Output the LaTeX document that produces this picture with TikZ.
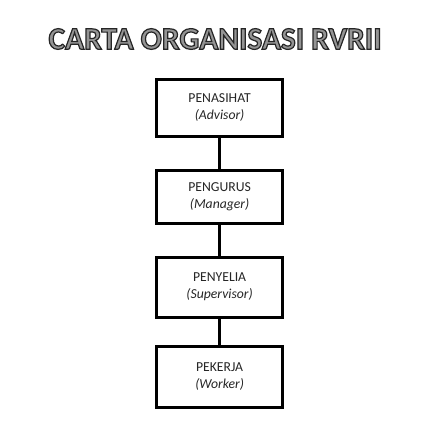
\documentclass[tikz,border=0pt]{standalone}
\usepackage{fontspec}
\setmainfont{Carlito}
\newcommand{\outlinedtext}[1]{\special{pdf:literal direct 2 Tr 1.2 w 0.15 0.15 0.15 RG}#1\special{pdf:literal direct 0 Tr 0 0 0 RG}}
\begin{document}
\begin{tikzpicture}[x=1pt,y=-1pt,
  box/.style={draw=black,line width=3pt,minimum width=126.3pt,inner sep=0pt,align=center,font=\fontsize{13.7}{16.8}\selectfont,text=black!85},
  link/.style={draw=black,line width=3pt}]
\useasboundingbox[fill=white] (0,0) rectangle (444,444);
\node (title) [font=\bfseries\fontsize{31.4}{31.4}\selectfont,text=black!42,inner sep=0pt] at (215,39)
  {\outlinedtext{CARTA ORGANISASI RVRII}};
\node (b1) [box,minimum height=56.5pt] at (219.6,107.75) {PENASIHAT\\\textit{(Advisor)}};
\node (b2) [box,minimum height=52.5pt] at (219.6,196.75) {PENGURUS\\\textit{(Manager)}};
\node (b3) [box,minimum height=60pt] at (219.6,287) {PENYELIA\\\textit{(Supervisor)}};
\node (b4) [box,minimum height=60.5pt] at (219.6,376.75) {PEKERJA\\\textit{(Worker)}};
\draw[link] (b1.south) -- (b2.north);
\draw[link] (b2.south) -- (b3.north);
\draw[link] (b3.south) -- (b4.north);
\end{tikzpicture}
\end{document}
